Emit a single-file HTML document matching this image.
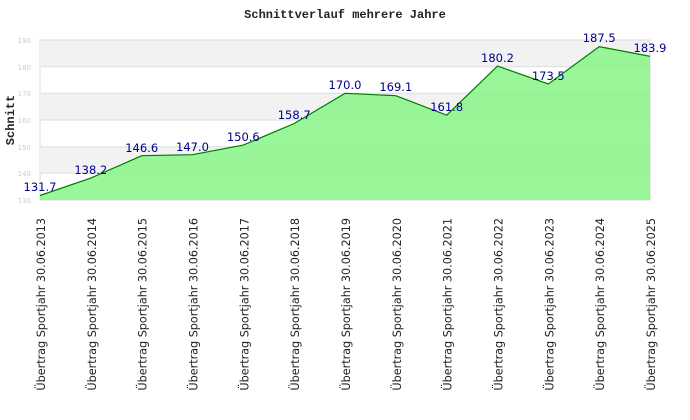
<!DOCTYPE html><html><head><style>body{margin:0;background:#fff}svg{display:block}</style></head><body>
<svg width="690" height="420" xmlns="http://www.w3.org/2000/svg">
<text x="345" y="18" text-anchor="middle" font-family="Liberation Mono, monospace" font-weight="bold" font-size="12" fill="#222">Schnittverlauf mehrere Jahre</text>
<rect x="40" y="40" width="610" height="160" fill="#fff" stroke="#ddd"/>
<rect x="40" y="40" width="610" height="26.7" fill="#f2f2f2"/>
<rect x="40" y="93.3" width="610" height="26.7" fill="#f2f2f2"/>
<rect x="40" y="146.7" width="610" height="26.7" fill="#f2f2f2"/>
<g stroke="#ddd" stroke-width="1">
<line x1="40" x2="650" y1="40" y2="40"/><line x1="40" x2="650" y1="66.7" y2="66.7"/><line x1="40" x2="650" y1="93.3" y2="93.3"/><line x1="40" x2="650" y1="120" y2="120"/><line x1="40" x2="650" y1="146.7" y2="146.7"/><line x1="40" x2="650" y1="173.3" y2="173.3"/><line x1="40" x2="650" y1="200" y2="200"/><line x1="650" x2="650" y1="40" y2="200"/>
</g>
<g font-family="DejaVu Sans, sans-serif" font-size="7" fill="#ccc" text-anchor="end">
<text x="31" y="43">190</text><text x="31" y="70">180</text><text x="31" y="96">170</text><text x="31" y="123">160</text><text x="31" y="150">150</text><text x="31" y="176">140</text><text x="31" y="203">130</text>
</g>
<text transform="translate(14,120) rotate(-90)" text-anchor="middle" font-family="Liberation Mono, monospace" font-weight="bold" font-size="12" fill="#222">Schnitt</text>
<polygon fill="#7ff57f" fill-opacity="0.8" points="40,200 40,195.5 90.8,178.1 141.7,155.7 192.5,154.7 243.3,145.1 294.2,123.5 345,93.3 395.8,95.7 446.7,115.2 497.5,66.1 548.3,84 599.2,46.7 650,56.3 650,200"/>
<polyline fill="none" stroke="#007a00" stroke-width="1.2" points="40,195.5 90.8,178.1 141.7,155.7 192.5,154.7 243.3,145.1 294.2,123.5 345,93.3 395.8,95.7 446.7,115.2 497.5,66.1 548.3,84 599.2,46.7 650,56.3"/>
<g font-family="DejaVu Sans, sans-serif" font-size="11.5" fill="#00008b" text-anchor="middle">
<text x="40" y="191">131.7</text><text x="90.8" y="174">138.2</text><text x="141.7" y="152">146.6</text><text x="192.5" y="151">147.0</text><text x="243.3" y="141">150.6</text><text x="294.2" y="119">158.7</text><text x="345" y="89">170.0</text><text x="395.8" y="91">169.1</text><text x="446.7" y="111">161.8</text><text x="497.5" y="62">180.2</text><text x="548.3" y="80">173.5</text><text x="599.2" y="42">187.5</text><text x="650" y="52">183.9</text>
</g>
<g font-family="DejaVu Sans, sans-serif" font-size="11.2" fill="#222" text-anchor="end">
<text transform="translate(45,218) rotate(-90)">Übertrag Sportjahr 30.06.2013</text>
<text transform="translate(95.8,218) rotate(-90)">Übertrag Sportjahr 30.06.2014</text>
<text transform="translate(146.7,218) rotate(-90)">Übertrag Sportjahr 30.06.2015</text>
<text transform="translate(197.5,218) rotate(-90)">Übertrag Sportjahr 30.06.2016</text>
<text transform="translate(248.3,218) rotate(-90)">Übertrag Sportjahr 30.06.2017</text>
<text transform="translate(299.2,218) rotate(-90)">Übertrag Sportjahr 30.06.2018</text>
<text transform="translate(350,218) rotate(-90)">Übertrag Sportjahr 30.06.2019</text>
<text transform="translate(400.8,218) rotate(-90)">Übertrag Sportjahr 30.06.2020</text>
<text transform="translate(451.7,218) rotate(-90)">Übertrag Sportjahr 30.06.2021</text>
<text transform="translate(502.5,218) rotate(-90)">Übertrag Sportjahr 30.06.2022</text>
<text transform="translate(553.3,218) rotate(-90)">Übertrag Sportjahr 30.06.2023</text>
<text transform="translate(604.2,218) rotate(-90)">Übertrag Sportjahr 30.06.2024</text>
<text transform="translate(655,218) rotate(-90)">Übertrag Sportjahr 30.06.2025</text>
</g>
</svg></body></html>
